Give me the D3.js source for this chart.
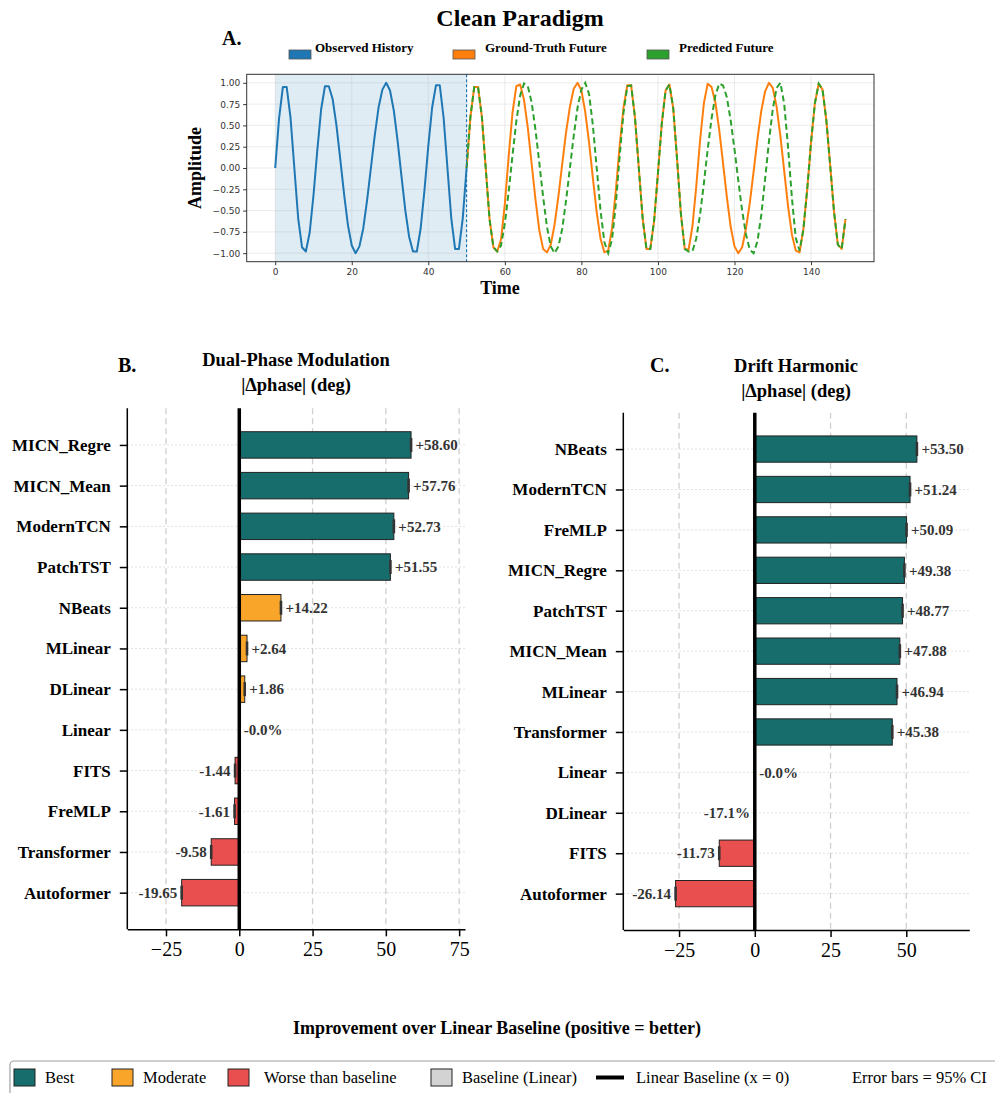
<!DOCTYPE html>
<html>
<head>
<meta charset="utf-8">
<script src="https://cdn.jsdelivr.net/npm/d3@7"></script>
<style>
  body { margin: 0; background: #fff; }
  svg { display: block; }
</style>
</head>
<body>
<div id="chart"></div>
<script>
// ---------------- data ----------------
// panel A: observed history t = 0..50, futures t = 50..149
const observedHistory = [0, 0.58, 0.95, 0.95, 0.59, 0.0, -0.59, -0.93, -0.98,
  -0.76, -0.32, 0.21, 0.69, 0.96, 0.96,
  0.81, 0.5, 0.1, -0.31, -0.67, -0.91, -1.0,
  -0.92, -0.71, -0.38, 0.0, 0.38, 0.71, 0.92, 1.0,
  0.91, 0.67, 0.31, -0.1, -0.5, -0.81, -0.98, -0.98,
  -0.71, -0.26, 0.26, 0.71, 0.97, 0.97,
  0.59, 0.0, -0.59, -0.95, -0.95, -0.59, 0.0];
const groundTruthFuture = [0, 0.6, 0.95, 0.95, 0.6, 0.0, -0.6, -0.93, -0.98,
  -0.84, -0.42, 0.14, 0.65, 0.96, 0.98, 0.80,
  0.47, 0.05, -0.37, -0.73, -0.95, -0.99, -0.9,
  -0.66, -0.33, 0.05, 0.42, 0.72, 0.93, 1.0, 0.91,
  0.66, 0.30, -0.12, -0.52, -0.83, -0.99, -0.97,
  -0.71, -0.26, 0.26, 0.71, 0.97, 0.97,
  0.59, 0.0, -0.59, -0.95, -0.95,
  -0.62, -0.06, 0.52, 0.91, 0.98,
  0.70, 0.10, -0.54, -0.95,
  -0.96, -0.69, -0.22, 0.32, 0.76, 0.99, 0.95,
  0.77, 0.45, 0.06, -0.34, -0.69, -0.92, -1.0,
  -0.93, -0.71, -0.41, -0.04, 0.34, 0.67, 0.90, 1.0,
  0.94, 0.72, 0.37, -0.04, -0.45, -0.78, -0.97, -0.99,
  -0.72, -0.25, 0.30, 0.76, 0.99,
  0.92, 0.56, 0.03, -0.51, -0.90, -0.95, -0.6];
const predictedFuture = [0, 0.6, 0.95, 0.95, 0.6, 0.0, -0.6, -0.93, -0.98,
  -0.91, -0.65, -0.28, 0.15, 0.55, 0.85, 0.99,
  0.96, 0.77, 0.45, 0.06, -0.34, -0.69, -0.92, -1.0,
  -0.92, -0.71, -0.38, 0.0, 0.38, 0.71, 0.92, 1.0,
  0.87, 0.5, 0.0, -0.5, -0.87, -1.0,
  -0.84, -0.42, 0.14, 0.65, 0.96, 0.97,
  0.59, 0.0, -0.59, -0.95, -0.95,
  -0.62, -0.06, 0.52, 0.91, 0.98,
  0.70, 0.10, -0.54, -0.95, -0.98,
  -0.98, -0.83, -0.55, -0.18, 0.22, 0.58, 0.85, 0.99,
  0.97, 0.83, 0.56, 0.22, -0.15, -0.50, -0.78, -0.96,
  -1.0, -0.86, -0.55, -0.13, 0.31, 0.69, 0.94, 1.0,
  0.75, 0.24, -0.35, -0.82, -0.97,
  -0.72, -0.25, 0.30, 0.76, 0.99,
  0.92, 0.56, 0.03, -0.51, -0.90, -0.95, -0.6];
const historyEnd = 50;
const timeTicks = [0, 20, 40, 60, 80, 100, 120, 140];
const ampTicks = [-1, -0.75, -0.5, -0.25, 0, 0.25, 0.5, 0.75, 1];

// panel B
const modelsB = ["MICN_Regre", "MICN_Mean", "ModernTCN", "PatchTST", "NBeats", "MLinear",
  "DLinear", "Linear", "FITS", "FreMLP", "Transformer", "Autoformer"];
const valuesB = [58.60, 57.76, 52.73, 51.55, 14.22, 2.64, 1.86, 0, -1.44, -1.61, -9.58, -19.65];
const labelsB = ["+58.60", "+57.76", "+52.73", "+51.55", "+14.22", "+2.64", "+1.86", "-0.0%",
  "-1.44", "-1.61", "-9.58", "-19.65"];
const tiersB = ["best", "best", "best", "best", "moderate", "moderate", "moderate", "baseline",
  "worse", "worse", "worse", "worse"];
const ticksB = [-25, 0, 25, 50, 75];

// panel C
const modelsC = ["NBeats", "ModernTCN", "FreMLP", "MICN_Regre", "PatchTST", "MICN_Mean",
  "MLinear", "Transformer", "Linear", "DLinear", "FITS", "Autoformer"];
const valuesC = [53.50, 51.24, 50.09, 49.38, 48.77, 47.88, 46.94, 45.38, 0, -0.1, -11.73, -26.14];
const labelsC = ["+53.50", "+51.24", "+50.09", "+49.38", "+48.77", "+47.88", "+46.94", "+45.38",
  "-0.0%", "-17.1%", "-11.73", "-26.14"];
const tiersC = ["best", "best", "best", "best", "best", "best", "best", "best", "baseline",
  "worse", "worse", "worse"];
const ticksC = [-25, 0, 25, 50];

const tierColor = { best: "#176d6c", moderate: "#f8a52a", worse: "#e94f4f", baseline: "#d3d3d3" };
const serif = "'Liberation Serif', 'Times New Roman', serif";

// ---------------- svg ----------------
const svg = d3.select("#chart").append("svg").attr("width", 995).attr("height", 1093);

////////////////////////////  Panel A  ////////////////////////////
const xA = d3.scaleLinear().domain([-7.45, 156.45]).range([246.7, 874]);
const yA = d3.scaleLinear().domain([-1.1, 1.1]).range([261.7, 74.3]);

svg.append("text").attr("x", 520).attr("y", 26).attr("text-anchor", "middle")
  .style("font-family", serif).style("font-weight", "bold").style("font-size", "24px")
  .text("Clean Paradigm");
svg.append("text").attr("x", 222).attr("y", 45)
  .style("font-family", serif).style("font-weight", "bold").style("font-size", "20px")
  .text("A.");

// legend A
const legA = [
  { name: "Observed History", color: "#1f77b4", x: 289 },
  { name: "Ground-Truth Future", color: "#ff7f0e", x: 453 },
  { name: "Predicted Future", color: "#2ca02c", x: 647 },
];
legA.forEach((d) => {
  svg.append("rect").attr("x", d.x).attr("y", 50).attr("width", 22).attr("height", 9)
    .attr("fill", d.color).attr("stroke", "#555").attr("stroke-width", 0.8);
  svg.append("text").attr("x", d.x + 26 + (d.x > 400 ? 6 : 0)).attr("y", 52)
    .style("font-family", serif).style("font-weight", "bold").style("font-size", "13px")
    .text(d.name);
});

// shading of observed window
svg.append("rect")
  .attr("x", xA(0)).attr("y", yA(1.1))
  .attr("width", xA(historyEnd) - xA(0)).attr("height", yA(-1.1) - yA(1.1))
  .attr("fill", "#1f77b4").attr("fill-opacity", 0.14);

// grid
const gridA = svg.append("g");
gridA.selectAll(".gx").data(timeTicks).enter().append("line")
  .attr("x1", (d) => xA(d)).attr("x2", (d) => xA(d))
  .attr("y1", yA(1.1)).attr("y2", yA(-1.1))
  .attr("stroke", "#b0b0b0").attr("stroke-opacity", 0.3).attr("stroke-width", 0.8);
gridA.selectAll(".gy").data(ampTicks).enter().append("line")
  .attr("x1", xA(-7.45)).attr("x2", xA(156.45))
  .attr("y1", (d) => yA(d)).attr("y2", (d) => yA(d))
  .attr("stroke", "#b0b0b0").attr("stroke-opacity", 0.3).attr("stroke-width", 0.8);

const lineA = d3.line().x((d) => xA(d.t)).y((d) => yA(d.v));
const obsPts = observedHistory.map((v, i) => ({ t: i, v: v }));
const gtPts = groundTruthFuture.map((v, i) => ({ t: historyEnd + i, v: v }));
const predPts = predictedFuture.map((v, i) => ({ t: historyEnd + i, v: v }));

svg.append("path").datum(obsPts).attr("d", lineA)
  .attr("fill", "none").attr("stroke", "#1f77b4").attr("stroke-width", 2).attr("stroke-linejoin", "round");
svg.append("path").datum(gtPts).attr("d", lineA)
  .attr("fill", "none").attr("stroke", "#ff7f0e").attr("stroke-width", 2).attr("stroke-linejoin", "round");
svg.append("path").datum(predPts).attr("d", lineA)
  .attr("fill", "none").attr("stroke", "#2ca02c").attr("stroke-width", 2)
  .attr("stroke-dasharray", "6,3.5");

svg.append("line")
  .attr("x1", xA(historyEnd)).attr("x2", xA(historyEnd))
  .attr("y1", yA(1.1)).attr("y2", yA(-1.1))
  .attr("stroke", "#1f77b4").attr("stroke-width", 1.2).attr("stroke-dasharray", "3,2");

// frame + axes
svg.append("rect").attr("x", 246.7).attr("y", 74.3).attr("width", 874 - 246.7).attr("height", 261.7 - 74.3)
  .attr("fill", "none").attr("stroke", "#333").attr("stroke-width", 1);

const xAxisA = svg.append("g").attr("transform", `translate(0, 261.7)`)
  .call(d3.axisBottom(xA).tickValues(timeTicks).tickSize(3.5).tickPadding(3).tickSizeOuter(0));
const yAxisA = svg.append("g").attr("transform", `translate(246.7, 0)`)
  .call(d3.axisLeft(yA).tickValues(ampTicks).tickFormat(d3.format(".2f")).tickSize(3.5).tickPadding(3).tickSizeOuter(0));
[xAxisA, yAxisA].forEach((g) => {
  g.select(".domain").remove();
  g.selectAll("line").attr("stroke", "#333");
  g.selectAll("text").attr("fill", "#333").style("font-family", "'DejaVu Sans', sans-serif").style("font-size", "9px");
});

svg.append("text").attr("x", 500).attr("y", 294).attr("text-anchor", "middle")
  .style("font-family", serif).style("font-weight", "bold").style("font-size", "18px").text("Time");
svg.append("text").attr("transform", "translate(201, 168) rotate(-90)").attr("text-anchor", "middle")
  .style("font-family", serif).style("font-weight", "bold").style("font-size", "18px").text("Amplitude");

////////////////////////////  Panels B / C  ////////////////////////////
function drawBarPanel(opt) {
  const g = svg.append("g");
  const x = d3.scaleLinear().domain(opt.domain).range([opt.left, opt.right]);
  const y = d3.scalePoint().domain(opt.models).range([opt.top, opt.bottom]).padding(0.9);
  const bh = y.step() * 0.65;

  // dotted horizontal grid
  g.selectAll(".hg").data(opt.models).enter().append("line")
    .attr("x1", opt.left).attr("x2", opt.right)
    .attr("y1", (d) => y(d)).attr("y2", (d) => y(d))
    .attr("stroke", "#d8d8d8").attr("stroke-width", 1).attr("stroke-dasharray", "1.5,2.5");
  // dashed vertical grid
  g.selectAll(".vg").data(opt.ticks.filter((t) => t !== 0)).enter().append("line")
    .attr("x1", (d) => x(d)).attr("x2", (d) => x(d))
    .attr("y1", opt.top).attr("y2", opt.bottom)
    .attr("stroke", "#cfcfcf").attr("stroke-width", 1.3).attr("stroke-dasharray", "6,4");

  const rows = opt.models.map((m, i) => ({ m: m, v: opt.values[i], lab: opt.labels[i], tier: opt.tiers[i] }));

  // bars
  g.selectAll(".bar").data(rows.filter((d) => Math.abs(d.v) >= 0.5)).enter().append("rect")
    .attr("x", (d) => Math.min(x(0), x(d.v)))
    .attr("y", (d) => y(d.m) - bh / 2)
    .attr("width", (d) => Math.abs(x(d.v) - x(0)))
    .attr("height", bh)
    .attr("fill", (d) => tierColor[d.tier])
    .attr("stroke", "#222").attr("stroke-width", 1);
  // error bar caps
  g.selectAll(".err").data(rows.filter((d) => Math.abs(d.v) >= 0.5)).enter().append("line")
    .attr("x1", (d) => x(d.v)).attr("x2", (d) => x(d.v))
    .attr("y1", (d) => y(d.m) - 7).attr("y2", (d) => y(d.m) + 7)
    .attr("stroke", "#333").attr("stroke-width", 2.6);

  // value labels
  g.selectAll(".lab").data(rows).enter().append("text")
    .attr("x", (d) => (d.v < 0 ? x(d.v) - 4.5 : x(d.v) + 4.5))
    .attr("y", (d) => y(d.m))
    .attr("dy", "0.35em")
    .attr("text-anchor", (d) => (d.v < 0 ? "end" : "start"))
    .style("font-family", serif).style("font-weight", "bold").style("font-size", "15px")
    .attr("fill", "#333")
    .text((d) => d.lab);

  // zero line
  g.append("line").attr("x1", x(0)).attr("x2", x(0)).attr("y1", opt.top).attr("y2", opt.bottom)
    .attr("stroke", "#000").attr("stroke-width", 3.5);

  // axes
  const xa = g.append("g").attr("transform", `translate(0, ${opt.bottom})`)
    .call(d3.axisBottom(x).tickValues(opt.ticks).tickSize(7).tickPadding(6).tickSizeOuter(0));
  xa.selectAll("text").style("font-family", serif).style("font-size", "20px").attr("fill", "#000");
  const ya = g.append("g").attr("transform", `translate(${opt.left}, 0)`)
    .call(d3.axisLeft(y).tickSize(7.5).tickPadding(9).tickSizeOuter(0));
  ya.selectAll("text").style("font-family", serif).style("font-weight", "bold").style("font-size", "17px")
    .attr("fill", "#000");
  ya.select(".domain").attr("d", `M0,${opt.top}V${opt.bottom}`);
  [xa, ya].forEach((a) => {
    a.select(".domain").attr("stroke", "#000").attr("stroke-width", 1.5);
    a.selectAll(".tick line").attr("stroke", "#000").attr("stroke-width", 1.5);
  });

  // titles
  g.append("text").attr("x", opt.titleX).attr("y", opt.titleY).attr("text-anchor", "middle")
    .style("font-family", serif).style("font-weight", "bold").style("font-size", "18.5px")
    .text(opt.title);
  g.append("text").attr("x", opt.titleX).attr("y", opt.titleY + 24.5).attr("text-anchor", "middle")
    .style("font-family", serif).style("font-weight", "bold").style("font-size", "18.5px")
    .text("|\u0394phase| (deg)");
  g.append("text").attr("x", opt.letterX).attr("y", 372)
    .style("font-family", serif).style("font-weight", "bold").style("font-size", "20px")
    .text(opt.letter);
}

drawBarPanel({
  models: modelsB, values: valuesB, labels: labelsB, tiers: tiersB, ticks: ticksB,
  domain: [-38.2, 77], left: 127.3, right: 465, top: 408.3, bottom: 929.3,
  title: "Dual-Phase Modulation", titleX: 296, titleY: 366, letter: "B.", letterX: 118,
});
drawBarPanel({
  models: modelsC, values: valuesC, labels: labelsC, tiers: tiersC, ticks: ticksC,
  domain: [-43.4, 70.8], left: 623.3, right: 969.3, top: 412.7, bottom: 930,
  title: "Drift Harmonic", titleX: 796, titleY: 372, letter: "C.", letterX: 650,
});

////////////////////////////  Bottom  ////////////////////////////
svg.append("text").attr("x", 497).attr("y", 1034).attr("text-anchor", "middle")
  .style("font-family", serif).style("font-weight", "bold").style("font-size", "18px")
  .text("Improvement over Linear Baseline (positive = better)");

svg.append("rect").attr("x", 10).attr("y", 1061).attr("width", 1000).attr("height", 45).attr("rx", 4)
  .attr("fill", "#fff").attr("stroke", "#a0a0a0").attr("stroke-width", 1.2);

const legItems = [
  { name: "Best", tier: "best", x: 14 },
  { name: "Moderate", tier: "moderate", x: 112 },
  { name: "Worse than baseline", tier: "worse", x: 228 },
  { name: "Baseline (Linear)", tier: "baseline", x: 431 },
];
legItems.forEach((d) => {
  svg.append("rect").attr("x", d.x).attr("y", 1069).attr("width", 21).attr("height", 17)
    .attr("fill", tierColor[d.tier]).attr("stroke", "#222").attr("stroke-width", 1);
  svg.append("text").attr("x", d.x + 31 + (d.tier === "worse" ? 5 : 0)).attr("y", 1083)
    .style("font-family", serif).style("font-size", "16.5px").text(d.name);
});
svg.append("line").attr("x1", 596).attr("x2", 624).attr("y1", 1077.5).attr("y2", 1077.5)
  .attr("stroke", "#000").attr("stroke-width", 4);
svg.append("text").attr("x", 636).attr("y", 1083)
  .style("font-family", serif).style("font-size", "16.5px").text("Linear Baseline (x = 0)");
svg.append("text").attr("x", 852).attr("y", 1083)
  .style("font-family", serif).style("font-size", "16.5px").text("Error bars = 95% CI");
</script>
</body>
</html>
